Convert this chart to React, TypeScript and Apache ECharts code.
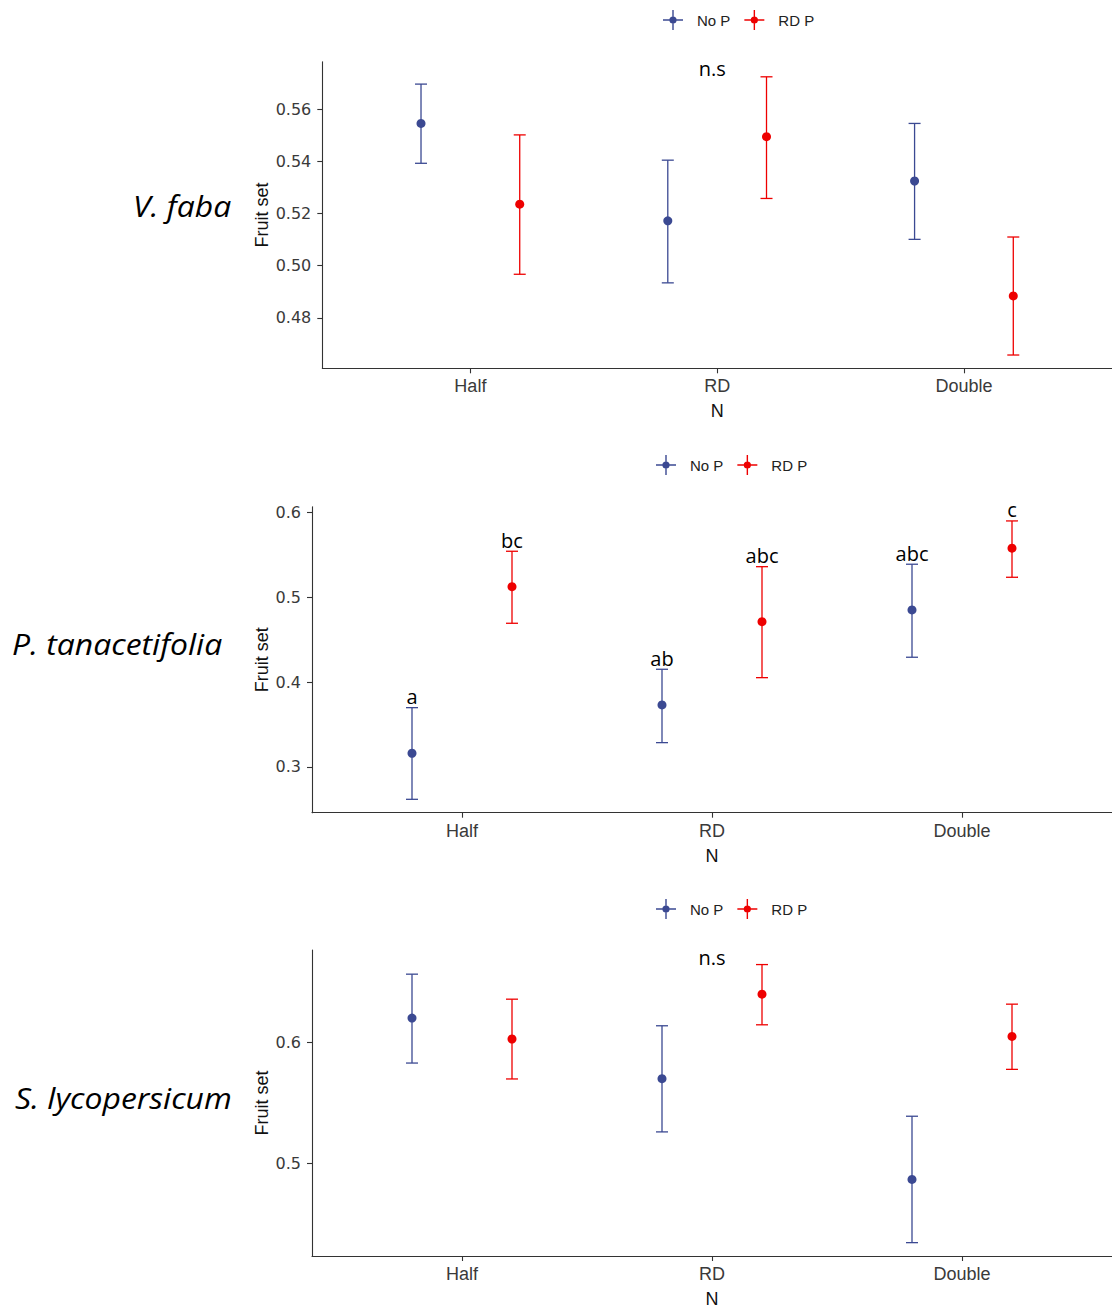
import React, { useEffect, useRef } from "react";
import * as echarts from "echarts";

// Nitrogen levels (x categories) and phosphorus treatments (series)
const nLevels = ["Half", "RD", "Double"];
const pLevels = ["No P", "RD P"];

// V. faba — mean fruit set with lower / upper error limits, per N level
const fabaNoPMean = [0.5546, 0.5172, 0.5325];
const fabaNoPLow = [0.5393, 0.4934, 0.5101];
const fabaNoPHigh = [0.5697, 0.5405, 0.5546];
const fabaRdPMean = [0.5236, 0.5495, 0.4884];
const fabaRdPLow = [0.4967, 0.5258, 0.4657];
const fabaRdPHigh = [0.5502, 0.5725, 0.511];
const fabaTicks = [0.48, 0.5, 0.52, 0.54, 0.56];
const fabaRange = [0.4606, 0.5783];

// P. tanacetifolia
const tanNoPMean = [0.316, 0.373, 0.4851];
const tanNoPLow = [0.2616, 0.3285, 0.4293];
const tanNoPHigh = [0.3698, 0.4151, 0.5391];
const tanRdPMean = [0.5126, 0.4713, 0.558];
const tanRdPLow = [0.4694, 0.4052, 0.5237];
const tanRdPHigh = [0.5544, 0.5362, 0.5902];
const tanNoPLetters = ["a", "ab", "abc"];
const tanRdPLetters = ["bc", "abc", "c"];
const tanTicks = [0.3, 0.4, 0.5, 0.6];
const tanRange = [0.2458, 0.607];

// S. lycopersicum
const lycNoPMean = [0.6197, 0.5698, 0.4869];
const lycNoPLow = [0.5827, 0.526, 0.4348];
const lycNoPHigh = [0.6559, 0.6134, 0.5389];
const lycRdPMean = [0.6025, 0.6394, 0.6046];
const lycRdPLow = [0.5696, 0.6142, 0.5775];
const lycRdPHigh = [0.6353, 0.6638, 0.6312];
const lycTicks = [0.5, 0.6];
const lycRange = [0.4238, 0.6758];

// "n.s" note positions [x, y] in data units
const fabaNsNote = [1.98, 0.5755];
const lycNsNote = [2.0, 0.6698];

const COLORS = ["#3B4992", "#EE0000"];
const DODGE = 0.2;
const AXIS_COLOR = "#333333";
const LABEL_COLOR = "#3a3a3a";

// legend key: error bar cross with a dot
const CROSS_ICON =
  "path://M0,9.3 L20,9.3 L20,10.7 L0,10.7 Z M9.3,0 L10.7,0 L10.7,20 L9.3,20 Z M6.4,10 A3.6,3.6 0 1,1 13.6,10 A3.6,3.6 0 1,1 6.4,10 Z";

type Group = { mean: number[]; low: number[]; high: number[]; letters?: string[] };
type Panel = {
  species: string;
  groups: Group[];
  ticks: number[];
  range: number[];
  decimals: number;
  note?: number[];
  grid: { left: number; top: number; width: number; height: number };
  legend: { left: number; top: number };
  yNameGap: number;
  title: { x: number; y: number };
};

const panels: Panel[] = [
  {
    species: "V. faba",
    groups: [
      { mean: fabaNoPMean, low: fabaNoPLow, high: fabaNoPHigh },
      { mean: fabaRdPMean, low: fabaRdPLow, high: fabaRdPHigh },
    ],
    ticks: fabaTicks,
    range: fabaRange,
    decimals: 2,
    note: fabaNsNote,
    grid: { left: 322.3, top: 61.7, width: 791, height: 306.6 },
    legend: { left: 658, top: 5 },
    yNameGap: 51,
    title: { x: 133, y: 206 },
  },
  {
    species: "P. tanacetifolia",
    groups: [
      { mean: tanNoPMean, low: tanNoPLow, high: tanNoPHigh, letters: tanNoPLetters },
      { mean: tanRdPMean, low: tanRdPLow, high: tanRdPHigh, letters: tanRdPLetters },
    ],
    ticks: tanTicks,
    range: tanRange,
    decimals: 1,
    grid: { left: 312, top: 506.7, width: 801.6, height: 306 },
    legend: { left: 651, top: 450 },
    yNameGap: 41,
    title: { x: 12, y: 644 },
  },
  {
    species: "S. lycopersicum",
    groups: [
      { mean: lycNoPMean, low: lycNoPLow, high: lycNoPHigh },
      { mean: lycRdPMean, low: lycRdPLow, high: lycRdPHigh },
    ],
    ticks: lycTicks,
    range: lycRange,
    decimals: 1,
    note: lycNsNote,
    grid: { left: 312, top: 950, width: 801.6, height: 306.7 },
    legend: { left: 651, top: 894 },
    yNameGap: 41,
    title: { x: 15, y: 1098 },
  },
];

function buildOption() {
  const grid: any[] = [];
  const xAxis: any[] = [];
  const yAxis: any[] = [];
  const legend: any[] = [];
  const pointSeries: any[] = [];
  const barSeries: any[] = [];
  const graphic: any[] = [];

  panels.forEach((panel, i) => {
    grid.push({ ...panel.grid });

    xAxis.push({
      gridIndex: i,
      type: "value",
      min: 0.4,
      max: 3.6,
      name: "N",
      nameLocation: "middle",
      nameGap: 34,
      nameMoveOverlap: false,
      nameTextStyle: { color: "#111", fontSize: 18, fontFamily: "Liberation Sans" },
      axisLine: { show: true, onZero: false, lineStyle: { color: AXIS_COLOR, width: 1.1 } },
      axisTick: { show: true, customValues: [1, 2, 3], length: 5, lineStyle: { color: AXIS_COLOR, width: 1.1 } },
      axisLabel: {
        customValues: [1, 2, 3],
        formatter: (v: number) => nLevels[Math.round(v) - 1] ?? "",
        margin: 9,
        color: LABEL_COLOR,
        fontSize: 18,
        fontFamily: "Liberation Sans",
      },
      splitLine: { show: false },
    });

    yAxis.push({
      gridIndex: i,
      type: "value",
      min: panel.range[0],
      max: panel.range[1],
      name: "Fruit set",
      nameLocation: "middle",
      nameGap: panel.yNameGap,
      nameRotate: 90,
      nameMoveOverlap: false,
      nameTextStyle: { color: "#111", fontSize: 18, fontFamily: "Liberation Sans" },
      axisLine: { show: true, onZero: false, lineStyle: { color: AXIS_COLOR, width: 1.1 } },
      axisTick: { show: true, customValues: panel.ticks, length: 5, lineStyle: { color: AXIS_COLOR, width: 1.1 } },
      axisLabel: {
        customValues: panel.ticks,
        formatter: (v: number) => v.toFixed(panel.decimals),
        margin: 11,
        color: LABEL_COLOR,
        fontSize: 16,
        fontFamily: "DejaVu Sans",
      },
      splitLine: { show: false },
    });

    legend.push({
      left: panel.legend.left,
      top: panel.legend.top,
      orient: "horizontal",
      itemWidth: 20,
      itemHeight: 20,
      itemGap: 14,
      selectedMode: false,
      data: pLevels.map((name) => ({ name, icon: CROSS_ICON })),
      textStyle: { fontFamily: "Liberation Sans", fontSize: 15, color: "#222", padding: [0, 0, 0, 9] },
    });

    panel.groups.forEach((g, gi) => {
      const color = COLORS[gi];
      const offset = gi === 0 ? -DODGE : DODGE;
      const letters = g.letters;

      pointSeries.push({
        type: "scatter",
        name: pLevels[gi],
        xAxisIndex: i,
        yAxisIndex: i,
        symbol: "circle",
        symbolSize: 9,
        itemStyle: { color, opacity: 1 },
        z: 4,
        data: g.mean.map((m, k) => [k + 1 + offset, m]),
      });

      barSeries.push({
        type: "custom",
        name: pLevels[gi],
        xAxisIndex: i,
        yAxisIndex: i,
        itemStyle: { color },
        z: 3,
        encode: { x: 0, y: [1, 2] },
        data: g.low.map((lo, k) => [k + 1 + offset, lo, g.high[k]]),
        renderItem: (params: any, api: any) => {
          const x = api.value(0);
          const top = api.coord([x, api.value(2)]);
          const bot = api.coord([x, api.value(1)]);
          const cap = 6;
          const style = { stroke: color, lineWidth: 1.3, fill: null };
          const children: any[] = [
            { type: "line", shape: { x1: top[0], y1: top[1], x2: bot[0], y2: bot[1] }, style },
            { type: "line", shape: { x1: top[0] - cap, y1: top[1], x2: top[0] + cap, y2: top[1] }, style },
            { type: "line", shape: { x1: bot[0] - cap, y1: bot[1], x2: bot[0] + cap, y2: bot[1] }, style },
          ];
          const letter = letters ? letters[params.dataIndex] : undefined;
          if (letter) {
            children.push({
              type: "text",
              x: top[0],
              y: top[1] - 1,
              style: {
                text: letter,
                fill: "#000",
                fontSize: 20,
                fontFamily: "Open Sans",
                align: "center",
                verticalAlign: "bottom",
              },
            });
          }
          return { type: "group", children };
        },
      });
    });

    if (panel.note) {
      barSeries.push({
        type: "custom",
        name: "note",
        xAxisIndex: i,
        yAxisIndex: i,
        z: 5,
        encode: { x: 0, y: 1 },
        data: [panel.note],
        renderItem: (_params: any, api: any) => {
          const p = api.coord([api.value(0), api.value(1)]);
          return {
            type: "text",
            x: p[0],
            y: p[1],
            style: {
              text: "n.s",
              fill: "#000",
              fontSize: 20,
              fontFamily: "Open Sans",
              align: "center",
              verticalAlign: "middle",
            },
          };
        },
      });
    }

    graphic.push({
      type: "text",
      x: panel.title.x,
      y: panel.title.y,
      scaleX: 1.1,
      style: {
        text: panel.species,
        fill: "#000",
        fontSize: 29,
        fontStyle: "italic",
        fontFamily: "Open Sans",
        align: "left",
        verticalAlign: "middle",
      },
    });
  });

  return {
    animation: false,
    backgroundColor: "#ffffff",
    grid,
    xAxis,
    yAxis,
    legend,
    graphic,
    series: [...pointSeries, ...barSeries],
  };
}

export default function App() {
  const ref = useRef<HTMLDivElement>(null);

  useEffect(() => {
    if (!ref.current) return;
    const chart = echarts.init(ref.current, undefined, { renderer: "svg" });
    chart.setOption(buildOption() as any);
    return () => chart.dispose();
  }, []);

  return (
    <div
      ref={ref}
      style={{ position: "absolute", left: 0, top: 0, width: 1112, height: 1309, background: "#fff" }}
    />
  );
}
